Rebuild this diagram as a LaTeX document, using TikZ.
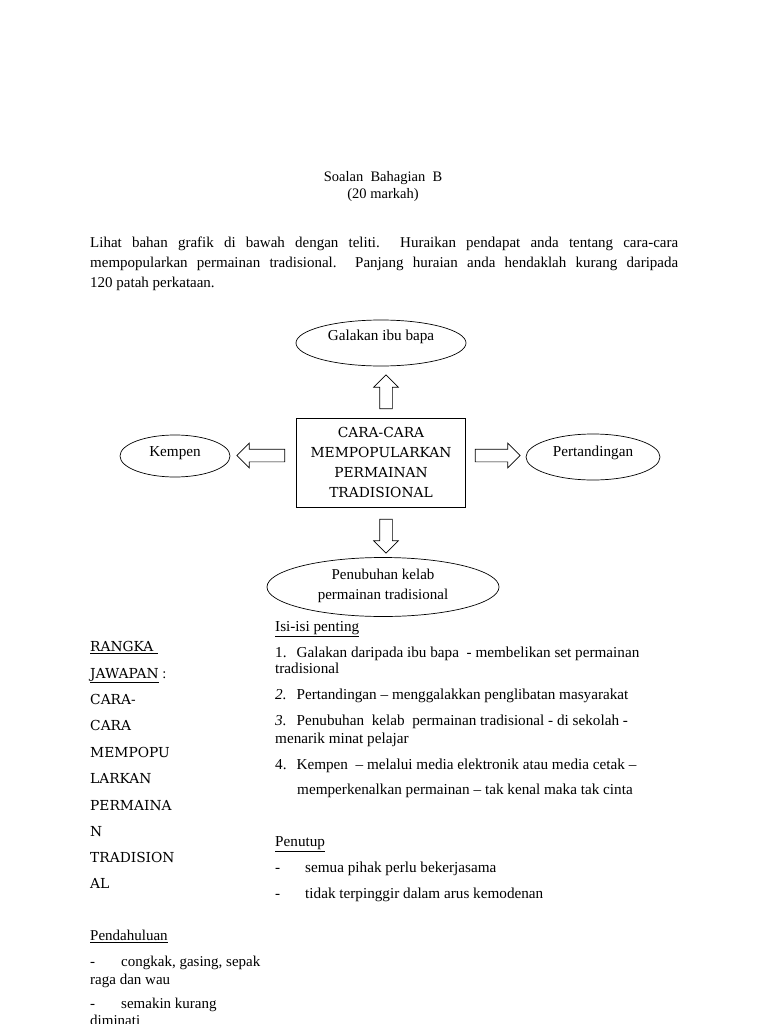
\documentclass[tikz,border=0pt]{standalone}
\usepackage{fontspec}
\setmainfont{Liberation Serif}
\newfontfamily\capsf{DejaVu Serif}
\usetikzlibrary{shapes.geometric,shapes.arrows}
\tikzset{
  ell/.style={ellipse, draw, line width=0.7pt, inner sep=0pt},
  blk/.style={single arrow, draw, line width=0.7pt, single arrow tip angle=90,
     single arrow head extend=6pt, inner sep=6pt, minimum height=#1},
  txt/.style={anchor=west, inner sep=0pt, font=\fontsize{15.2}{17}\selectfont},
  ctxt/.style={inner sep=0pt, font=\fontsize{14.5}{17}\selectfont},
  etxt/.style={inner sep=0pt, font=\fontsize{15.2}{17}\selectfont},
  captxt/.style={anchor=west, inner sep=0pt, font=\capsf\fontsize{13.8}{16}\selectfont}
}
\begin{document}
\begin{tikzpicture}[x=1pt,y=-1pt]
\useasboundingbox (0,0) rectangle (768,1024);
\fill[white] (0,0) rectangle (768,1024);
% heading
\node[ctxt] (h1) at (383,178) {\strut Soalan~ Bahagian~ B};
\node[ctxt] (h2) at (383,195) {\strut (20 markah)};
\node[txt, font=\fontsize{15}{17}\selectfont] (p1) at (90,244) {\strut\makebox[588pt][s]{Lihat bahan grafik di bawah dengan teliti.\ \ Huraikan pendapat anda tentang cara-cara}};
\node[txt, font=\fontsize{15}{17}\selectfont] (p2) at (90,264) {\strut\makebox[588pt][s]{mempopularkan permainan tradisional.\ \ Panjang huraian anda hendaklah kurang daripada}};
\node[txt, font=\fontsize{15}{17}\selectfont] (p3) at (90,284) {\strut 120 patah perkataan.};
% diagram
\node[ell, minimum width=170pt, minimum height=46pt] (galak) at (381,343) {};
\node[etxt] (galakt) at (381,337) {\strut Galakan ibu bapa};
\node[draw, line width=0.7pt, minimum width=169pt, minimum height=89pt, inner sep=0pt] (box) at (380.5,462.5) {};
\node[ctxt, font=\capsf\fontsize{13.8}{20}\selectfont, align=center] (boxt) at (381,462) {CARA-CARA\\MEMPOPULARKAN\\PERMAINAN\\TRADISIONAL};
\node[ell, minimum width=110pt, minimum height=42pt] (kempen) at (175,456) {};
\node[etxt] (kempent) at (175,453) {\strut Kempen};
\node[ell, minimum width=134pt, minimum height=46pt] (tanding) at (593,457) {};
\node[etxt] (tandingt) at (593,453) {\strut Pertandingan};
\node[ell, minimum width=232pt, minimum height=59pt] (kelab) at (383,587) {};
\node[etxt, align=center, font=\fontsize{15}{20}\selectfont] (kelabt) at (383,586) {Penubuhan kelab\\permainan tradisional};
\node[blk=34pt, rotate=90] (aup) at (386,395) {};
\node[blk=34pt, rotate=-90] (adown) at (386,533) {};
\node[blk=48pt, rotate=180] (aleft) at (264,455.5) {};
\node[blk=45pt] (aright) at (494.5,455.5) {};
% content list
\node[txt] (isi) at (275,628) {\strut\underline{Isi-isi penting}};
\node[txt] (i1) at (275,654) {\strut 1.\hspace{10pt}Galakan daripada ibu bapa\ \ - membelikan set permainan};
\node[txt] (i1b) at (275,670) {\strut tradisional};
\node[txt] (i2) at (275,696) {\strut\textit{2.}\hspace{10pt}Pertandingan -- menggalakkan penglibatan masyarakat};
\node[txt] (i3) at (275,722) {\strut\textit{3.}\hspace{10pt}Penubuhan\ \ kelab\ \ permainan tradisional - di sekolah -};
\node[txt] (i3b) at (275,740) {\strut menarik minat pelajar};
\node[txt] (i4) at (275,766) {\strut 4.\hspace{10pt}Kempen\ \ -- melalui media elektronik atau media cetak --};
\node[txt] (i4b) at (297,791) {\strut memperkenalkan permainan -- tak kenal maka tak cinta};
\node[txt] (pen) at (275,843) {\strut\underline{Penutup}};
\node[txt] (pn1) at (275,869) {\strut -};
\node[txt] (pn1t) at (305,869) {\strut semua pihak perlu bekerjasama};
\node[txt] (pn2) at (275,895) {\strut -};
\node[txt] (pn2t) at (305,895) {\strut tidak terpinggir dalam arus kemodenan};
% left column
\node[captxt] (c1) at (90,648) {\strut\underline{RANGKA\ }};
\node[captxt] (c2) at (90,675) {\strut\underline{JAWAPAN}{\rmfamily\fontsize{14.5}{17}\selectfont\ :}};
\node[captxt] (c3) at (90,701) {\strut CARA-};
\node[captxt] (c4) at (90,727) {\strut CARA};
\node[captxt] (c5) at (90,754) {\strut MEMPOPU};
\node[captxt] (c6) at (90,780) {\strut LARKAN};
\node[captxt] (c7) at (90,807) {\strut PERMAINA};
\node[captxt] (c8) at (90,833) {\strut N};
\node[captxt] (c9) at (90,859) {\strut TRADISION};
\node[captxt] (c10) at (90,885) {\strut AL};
\node[txt, font=\fontsize{15}{17}\selectfont] (pd) at (90,937) {\strut\underline{Pendahuluan}};
\node[txt, font=\fontsize{15}{17}\selectfont] (pd1) at (90,963) {\strut -};
\node[txt, font=\fontsize{15}{17}\selectfont] (pd1t) at (121,963) {\strut congkak, gasing, sepak};
\node[txt, font=\fontsize{15}{17}\selectfont] (pd1b) at (90,981) {\strut raga dan wau};
\node[txt, font=\fontsize{15}{17}\selectfont] (pd2) at (90,1005) {\strut -};
\node[txt, font=\fontsize{15}{17}\selectfont] (pd2t) at (121,1005) {\strut semakin kurang};
\node[txt, font=\fontsize{15}{17}\selectfont] (pd2b) at (90,1022) {\strut diminati};
\end{tikzpicture}
\end{document}
